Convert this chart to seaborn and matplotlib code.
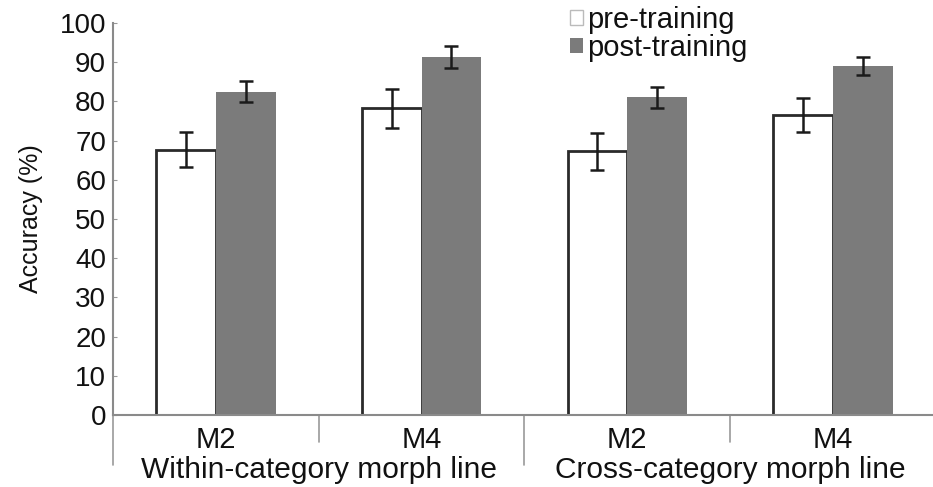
import matplotlib
matplotlib.use("Agg")
import matplotlib.pyplot as plt
import matplotlib.transforms as mtransforms
from matplotlib.patches import Patch
import seaborn as sns
import pandas as pd
import numpy as np

# Accuracy data (mean and error) per morph condition
conditions = ["M2 (within)", "M4 (within)", "M2 (cross)", "M4 (cross)"]
tick_labels = ["M2", "M4", "M2", "M4"]
group_labels = ["Within-category morph line", "Cross-category morph line"]
phases = ["pre-training", "post-training"]
pre_mean = [67.7, 78.2, 67.3, 76.5]
pre_err = [4.5, 4.9, 4.7, 4.4]
post_mean = [82.5, 91.3, 81.0, 89.1]
post_err = [2.7, 2.8, 2.7, 2.3]

df = pd.DataFrame({
    "condition": conditions * 2,
    "phase": [phases[0]] * 4 + [phases[1]] * 4,
    "accuracy": pre_mean + post_mean,
    "err": pre_err + post_err,
})

sns.set_style("white")
plt.rcParams["font.family"] = ["Liberation Sans", "DejaVu Sans"]
plt.rcParams["text.color"] = "#111111"

fig = plt.figure(figsize=(9.33, 4.87), dpi=100)
ax = fig.add_axes([0.1211, 0.1478, 0.882, 0.805])

sns.barplot(data=df, x="condition", y="accuracy", hue="phase",
            order=conditions, hue_order=phases,
            palette={phases[0]: "white", phases[1]: "#7b7b7b"},
            width=0.58, errorbar=None, ax=ax, legend=False)

# Outline the pre-training bars only
bars = ax.patches
for i, p in enumerate(bars[:8]):
    if i < 4:
        p.set_edgecolor("#2a2a2a")
        p.set_linewidth(2.0)
    else:
        p.set_edgecolor("none")

# Error bars placed at the bar centres
for p, (_, row) in zip(bars[:8], df.iterrows()):
    xc = p.get_x() + p.get_width() / 2
    ax.errorbar(xc, row["accuracy"], yerr=row["err"], fmt="none",
                ecolor="#1a1a1a", elinewidth=1.8, capsize=5, capthick=1.8,
                zorder=5)

ax.set_xlim(-0.5, 3.5)
ax.set_ylim(0, 100)
ax.set_yticks(np.arange(0, 101, 10))
ax.tick_params(axis="y", labelsize=20, pad=5, direction="in", length=3,
               color="#999999", left=True, labelcolor="#111111")
ax.set_xticks(range(4))
ax.set_xticklabels(tick_labels, fontsize=21, color="#111111")
ax.tick_params(axis="x", length=0, pad=8)
ax.set_xlabel("")
ax.set_ylabel("Accuracy (%)", fontsize=18, labelpad=12, color="#111111")

for side in ["top", "right"]:
    ax.spines[side].set_visible(False)
for side in ["left", "bottom"]:
    ax.spines[side].set_color("#8a8a8a")
    ax.spines[side].set_linewidth(1.5)

# Category separators below the axis
trans = mtransforms.blended_transform_factory(ax.transData, ax.transAxes)
for xpos, depth in [(-0.5, -0.128), (0.5, -0.07), (1.5, -0.128), (2.5, -0.07)]:
    ax.plot([xpos, xpos], [0, depth], transform=trans, color="#9a9a9a",
            lw=1.2, clip_on=False)

# Group labels
for centre, label in zip([0.5, 2.5], group_labels):
    ax.text(centre, -0.14, label, transform=trans, ha="center", va="center",
            fontsize=21.5)

# Legend with small square markers
handles = [Patch(facecolor="white", edgecolor="#bbbbbb", lw=1.0),
           Patch(facecolor="#7b7b7b", edgecolor="none")]
fig.legend(handles, phases, loc="upper left",
           bbox_to_anchor=(0.589, 1.03), frameon=False, fontsize=21,
           handlelength=0.45, handleheight=0.45, handletextpad=0.12,
           labelspacing=0.0, borderpad=0.2)

fig.savefig("out.png", dpi=100)
